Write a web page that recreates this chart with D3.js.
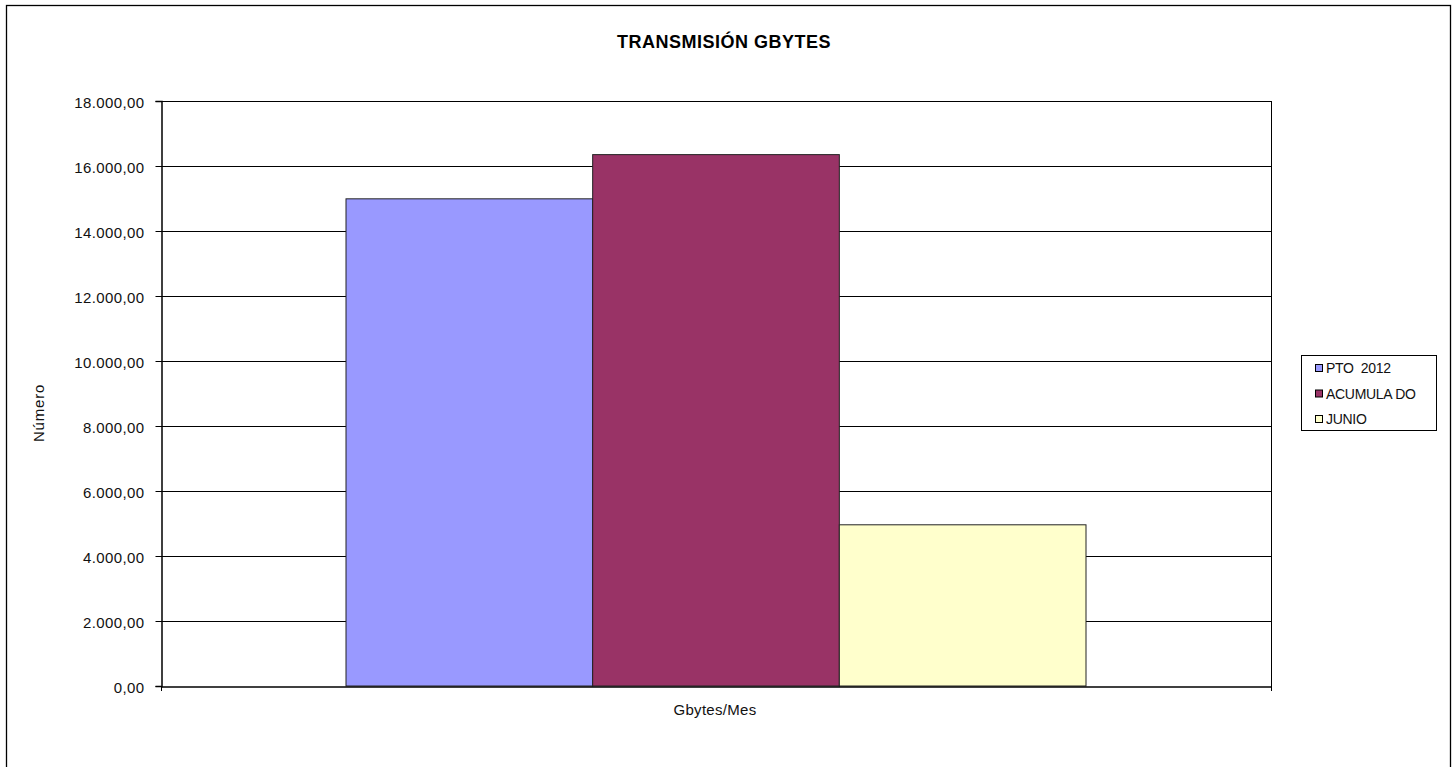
<!DOCTYPE html>
<html>
<head>
<meta charset="utf-8">
<script src="https://cdn.jsdelivr.net/npm/d3@7"></script>
<style>
  body { margin: 0; background: #fff; }
  svg { display: block; font-family: "Liberation Sans", Arial, sans-serif; }
</style>
</head>
<body>
<svg id="chart" width="1456" height="767"></svg>
<script>
// chart values
const categories = ['Gbytes/Mes'];
const seriesNames = ['PTO  2012', 'ACUMULA DO', 'JUNIO'];
const seriesValues = [14990, 16350, 4960];
const seriesColors = ['#9999FF', '#993366', '#FFFFCC'];
const yTicks = [0, 2000, 4000, 6000, 8000, 10000, 12000, 14000, 16000, 18000];

const svg = d3.select('#chart');
const m = { left: 161, right: 1271, top: 101, bottom: 686 };

// es-ES style number: 18.000,00
const fmt = d3.formatLocale({ decimal: ',', thousands: '.', grouping: [3], currency: ['', ''] }).format(',.2f');

// outer chart border
svg.append('rect')
  .attr('x', 6.5).attr('y', 5.5).attr('width', 1444).attr('height', 780)
  .attr('fill', 'none').attr('stroke', '#000').attr('stroke-width', 1.3);

const x0 = d3.scaleBand().domain(categories).range([m.left, m.right]);
// gap width 150% → bars fill 3/(3+1.5) of the category
const inner = x0.bandwidth() * 3 / 4.5;
const x1 = d3.scaleBand().domain(seriesNames).range([0, inner]);
const y = d3.scaleLinear().domain([0, 18000]).range([m.bottom, m.top]);

// gridlines
svg.append('g').selectAll('line').data(yTicks.slice(1)).join('line')
  .attr('x1', m.left).attr('x2', m.right)
  .attr('y1', d => Math.round(y(d)) + 0.5).attr('y2', d => Math.round(y(d)) + 0.5)
  .attr('stroke', '#000').attr('stroke-width', 1);

// right border of plot area
svg.append('line')
  .attr('x1', m.right + 0.5).attr('x2', m.right + 0.5)
  .attr('y1', m.top).attr('y2', m.bottom)
  .attr('stroke', '#000');

// bars
const off = (x0.bandwidth() - inner) / 2;
svg.append('g').selectAll('rect').data(seriesValues).join('rect')
  .attr('x', (d, i) => x0(categories[0]) + off + x1(seriesNames[i]))
  .attr('width', x1.bandwidth())
  .attr('y', d => y(d))
  .attr('height', d => y(0) - y(d))
  .attr('fill', (d, i) => seriesColors[i])
  .attr('stroke', '#222').attr('stroke-width', 1);

// y axis
const yAxis = svg.append('g')
  .attr('transform', `translate(${m.left + 0.5},0)`)
  .call(d3.axisLeft(y).tickValues(yTicks).tickFormat(fmt).tickSize(6).tickPadding(11));
yAxis.select('.domain').attr('stroke', '#000').attr('stroke-width', 1.5);
yAxis.selectAll('.tick line').attr('stroke', '#000');
yAxis.selectAll('.tick text')
  .attr('font-size', 15).attr('letter-spacing', 0.4).attr('dy', '0.42em').attr('fill', '#111')
  .attr('font-family', '"Liberation Sans", Arial, sans-serif');

// x axis
const xAxis = svg.append('g')
  .attr('transform', `translate(0,${m.bottom + 0.5})`)
  .call(d3.axisBottom(x0).tickSize(0).tickFormat(''));
xAxis.select('.domain').attr('stroke', '#000').attr('stroke-width', 1.5);
// category boundary ticks
svg.append('g').selectAll('line').data([m.left, m.right]).join('line')
  .attr('x1', d => d + 0.5).attr('x2', d => d + 0.5)
  .attr('y1', m.bottom).attr('y2', m.bottom + 5)
  .attr('stroke', '#000');
svg.append('text')
  .attr('x', 715).attr('y', 715)
  .attr('text-anchor', 'middle').attr('font-size', 15).attr('letter-spacing', 0.3)
  .attr('fill', '#111')
  .text(categories[0]);

// title
svg.append('text')
  .attr('x', 724).attr('y', 48)
  .attr('text-anchor', 'middle').attr('font-size', 18).attr('font-weight', 'bold')
  .attr('letter-spacing', 0.5)
  .text('TRANSMISIÓN GBYTES');

// y axis title
svg.append('text')
  .attr('transform', `translate(44,413) rotate(-90)`)
  .attr('text-anchor', 'middle').attr('font-size', 15).attr('letter-spacing', 0.8)
  .attr('fill', '#111')
  .text('Número');

// legend
const lg = svg.append('g');
lg.append('rect')
  .attr('x', 1301.5).attr('y', 355.5).attr('width', 135).attr('height', 75)
  .attr('fill', '#fff').attr('stroke', '#000');
const items = lg.selectAll('g').data(seriesNames).join('g')
  .attr('transform', (d, i) => `translate(1315,${368 + i * 25.5})`);
items.append('rect')
  .attr('x', 0.5).attr('y', -3.5).attr('width', 7).attr('height', 7)
  .attr('fill', (d, i) => seriesColors[i]).attr('stroke', '#000');
items.append('text')
  .attr('x', 11).attr('y', 5).attr('font-size', 14).attr('letter-spacing', -0.3)
  .style('white-space', 'pre').attr('fill', '#111')
  .text(d => d);
</script>
</body>
</html>
